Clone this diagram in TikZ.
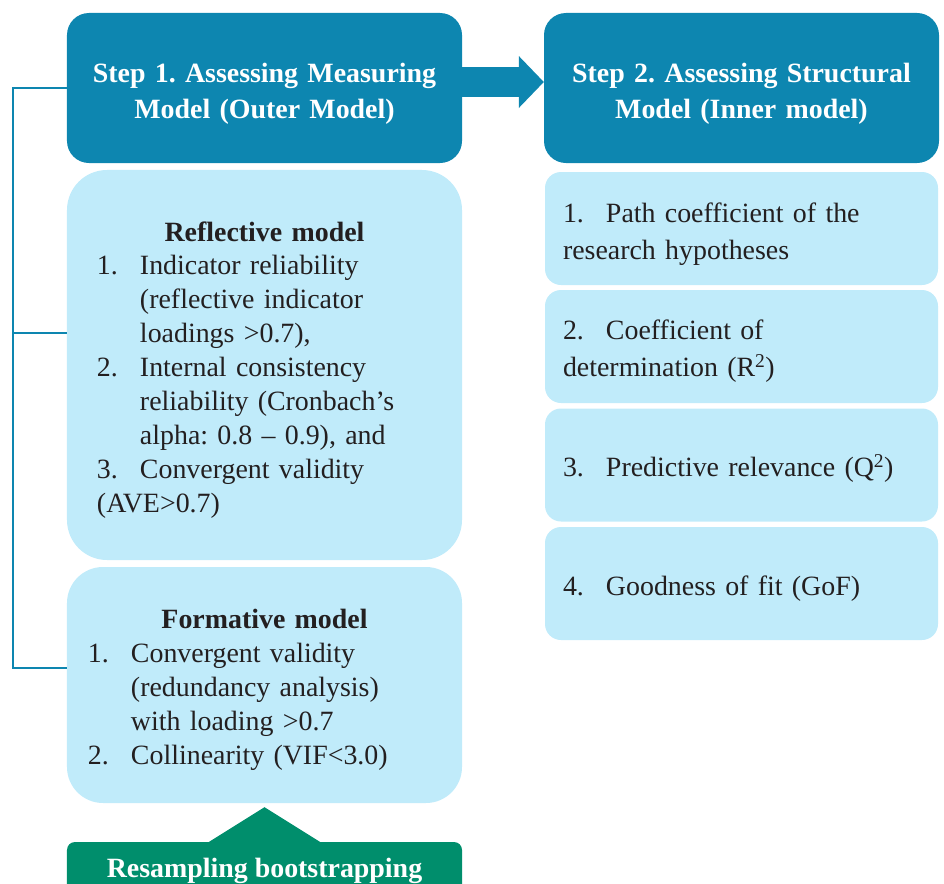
\documentclass[tikz,border=0pt]{standalone}
\usepackage{fontspec}
\setmainfont{Liberation Serif}
\usetikzlibrary{arrows.meta,calc}
\definecolor{stepblue}{RGB}{13,134,176}
\definecolor{boxblue}{RGB}{192,235,250}
\definecolor{bootgreen}{RGB}{0,142,108}
\definecolor{itemtext}{RGB}{35,31,32}
\newcommand{\numitem}[2]{\par\noindent\hangindent=43bp\hangafter=1\makebox[43bp][l]{#1}#2}
\tikzset{
  stepbox/.style={rounded corners=22bp,fill=stepblue,text=white,align=center,text width=395bp,
    font=\frenchspacing\bfseries\fontsize{28}{36}\selectfont,minimum width=395bp,minimum height=150bp,inner sep=0pt},
  listbox/.style={fill=boxblue,text=itemtext,align=left,font=\frenchspacing\fontsize{28}{34}\selectfont,inner ysep=0pt},
  link/.style={draw=stepblue,line width=2.5bp}
}
\begin{document}
\begin{tikzpicture}[x=1bp,y=-1bp]
\useasboundingbox (0,0) rectangle (944,884);
\clip (0,0) rectangle (944,884);
%the two steps
\node[stepbox] (s1) at (264.5,88) {\rule{0pt}{31bp}Step 1. Assessing Measuring\\Model (Outer Model)};
\node[stepbox] (s2) at (741.5,88) {\rule{0pt}{31bp}Step 2. Assessing Structural\\Model (Inner model)};
\draw[stepblue,line width=30bp,-{Triangle[length=25bp,width=52bp,line width=0pt]}] (s1.east |- 0,82) -- (s2.west |- 0,82);
%outer model
\node[listbox,rounded corners=40bp,minimum height=390bp,text width=335bp,inner xsep=30bp] (refl) at (264.5,365) {%
{\centering\bfseries\rule{0pt}{29bp}Reflective model\par}
\numitem{1.}{Indicator reliability\newline(reflective indicator\newline loadings >0.7),}
\numitem{2.}{Internal consistency\newline reliability (Cronbach's\newline alpha: 0.8 -- 0.9), and}
\numitem{3.}{Convergent validity\newline(AVE>0.7)}};
\node[listbox,rounded corners=36bp,minimum height=236bp,text width=353bp,inner xsep=21bp] (form) at (264.5,685) {%
{\centering\bfseries\rule{0pt}{29bp}Formative model\par}
\numitem{1.}{Convergent validity\newline(redundancy analysis)\newline with loading >0.7}
\numitem{2.}{Collinearity (VIF<3.0)}};
\draw[link] (s1.west) -- ++(-54,0) |- (form.west |- 0,668);
\draw[link] (refl.west |- 0,333) -- ++(-54,0);
%bootstrapping
\node[rounded corners=8bp,fill=bootgreen,text=white,font=\bfseries\fontsize{28}{34}\selectfont,
  minimum width=395bp,minimum height=58bp,inner sep=0pt] (boot) at (264.5,871) {Resampling bootstrapping};
\draw[bootgreen,line width=0pt,shorten >=4bp,-{Triangle[length=35bp,width=112bp,line width=0pt]}] (boot.north) -- (form.south);
%inner model
\tikzset{inner/.style={listbox,rounded corners=16bp,minimum height=113bp,text width=357bp,inner xsep=18bp,
  font=\frenchspacing\fontsize{28}{37}\selectfont}}
\node[inner] (r1) at (741.5,228.5) {\numitem{1.}{Path coefficient of the\newline research hypotheses}\vspace{6bp}};
\node[inner] (r2) at (741.5,346.5) {\numitem{2.}{Coefficient of\newline determination (R\textsuperscript{2})}\vspace{8bp}};
\node[inner] (r3) at (741.5,465) {\numitem{3.}{Predictive relevance (Q\textsuperscript{2})}\vspace{7bp}};
\node[inner] (r4) at (741.5,583.5) {\numitem{4.}{Goodness of fit (GoF)}\vspace{7bp}};
\end{tikzpicture}
\end{document}
